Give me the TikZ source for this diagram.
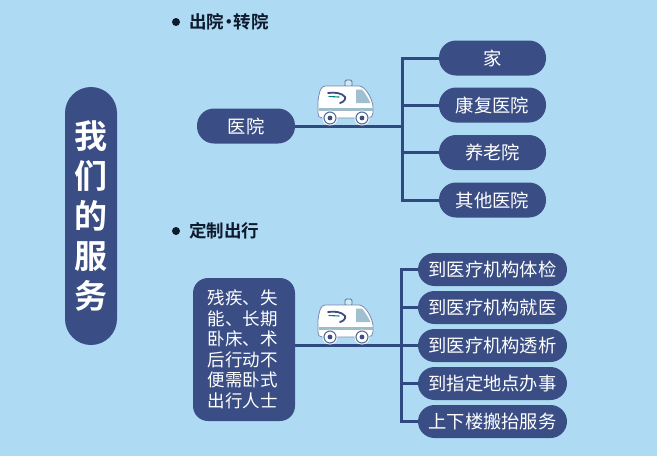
\documentclass[tikz,border=0pt]{standalone}
\usepackage{fontspec}
\setmainfont{Noto Sans CJK SC}
\newfontfamily\cjkbold{Noto Sans CJK SC Bold}
\definecolor{bgc}{HTML}{AEDBF3}
\definecolor{navy}{HTML}{3A4E85}
\definecolor{linec}{HTML}{2F4A80}
\definecolor{ink}{HTML}{0E1A2E}
\tikzset{
  x=1pt,y=-1pt,
  pill/.style={fill=navy,rounded corners=17pt,minimum height=35pt,inner sep=0pt,text=white,font=\fontsize{18.3}{20}\selectfont},
  lpill/.style={pill,minimum width=149pt,minimum height=33pt,rounded corners=16.5pt},
  link/.style={draw=linec,line width=3pt},
  head/.style={text=ink,font=\cjkbold\fontsize{17.5}{19}\selectfont,anchor=west,inner sep=0pt},
  dot/.style={circle,fill=ink,minimum size=8pt,inner sep=0pt},
  pics/amb/.style={code={
    \draw[linec!80,line width=.8pt,fill=bgc!60!white,rounded corners=1.5pt] (0,-24) rectangle (7,-17);
    \draw[linec!65,line width=.8pt,fill=white] (-27,9) -- (-27,-3) .. controls (-26,-10) and (-25,-18) .. (-20,-18) -- (14,-18) .. controls (20,-18) and (27,-6) .. (28,2) -- (28,9) .. controls (28,12) and (26,14) .. (23,14) -- (-23,14) .. controls (-26,14) and (-27,12) .. (-27,9) -- cycle;
    \fill[bgc!70!gray] (11,-14.5) -- (17,-14.5) .. controls (21,-10) and (24,-4) .. (25.5,-1) -- (11,-1) -- cycle;
    \fill[bgc!65!gray] (-26.5,4) rectangle (27.5,6.5);
    \draw[navy,line width=1.8pt,line cap=round] (-17,-11) .. controls (-10,-12) and (-3,-11) .. (0,-7) .. controls (1,-5) and (-1,-2) .. (-5,-1);
    \draw[teal,line width=1.1pt,line cap=round] (-16,-7.5) -- (-6,-7);
    \foreach \wx in {-15,17}{
      \fill[white] (\wx,14) circle (7.5);
      \draw[linec!80,line width=1.1pt] (\wx,14) circle (6);
      \fill[navy] (\wx,14) circle (2.4);
    }
  }}
}
\begin{document}
\begin{tikzpicture}
\useasboundingbox[fill=bgc] (0,0) rectangle (657,456);
% headings
\node[dot] (d1) at (176,22) {};
\node[head] (h1) at (189,22) {出院\hspace{-4pt}·\hspace{-4pt}转院};
\node[dot] (d2) at (176,231) {};
\node[head] (h2) at (189,231) {定制出行};
% main pill
\node[fill=navy,rounded corners=26pt,minimum width=52pt,minimum height=258pt,inner sep=0pt,text=white,align=center,font=\cjkbold\fontsize{33}{40}\selectfont] (main) at (91,216) {我\\们\\的\\服\\务};
% top group
\node[pill,minimum width=98pt] (src1) at (246,126) {医院};
\node[pill,minimum width=107pt] (t1) at (492.5,58) {家};
\node[pill,minimum width=107pt] (t2) at (492.5,105) {康复医院};
\node[pill,minimum width=107pt] (t3) at (492.5,152.5) {养老院};
\node[pill,minimum width=107pt] (t4) at (492.5,200) {其他医院};
\coordinate (j1) at (402,126);
\draw[link] (src1.east) -- (j1);
\draw[link] (t1.west) -| (j1);
\draw[link] (t4.west) -| (j1);
\draw[link] (t2.west) -- (t2.west -| j1);
\draw[link] (t3.west) -- (t3.west -| j1);
% bottom group
\node[fill=navy,rounded corners=15pt,minimum width=102pt,minimum height=143pt,inner sep=0pt,text=white,align=center,font=\fontsize{17.5}{20.5}\selectfont] (src2) at (244,349.5) {\hspace{-3pt}残疾、失\\\hspace{-3pt}能、长期\\\hspace{-3pt}卧床、术\\\hspace{-3pt}后行动不\\\hspace{-3pt}便需卧式\\\hspace{-3pt}出行人士};
\node[lpill] (b1) at (492.5,269.5) {到医疗机构体检};
\node[lpill] (b2) at (492.5,307.5) {到医疗机构就医};
\node[lpill] (b3) at (492.5,345.5) {到医疗机构透析};
\node[lpill] (b4) at (492.5,383.5) {到指定地点办事};
\node[lpill] (b5) at (492.5,421.5) {上下楼搬抬服务};
\coordinate (j2) at (401,345.5);
\draw[link] (src2.east |- j2) -- (b3.west);
\draw[link] (b1.west) -| (j2);
\draw[link] (b5.west) -| (j2);
\draw[link] (b2.west) -- (b2.west -| j2);
\draw[link] (b4.west) -- (b4.west -| j2);
% ambulances
\pic at (345,104) {amb};
\pic at (345,323) {amb};
\end{tikzpicture}
\end{document}
